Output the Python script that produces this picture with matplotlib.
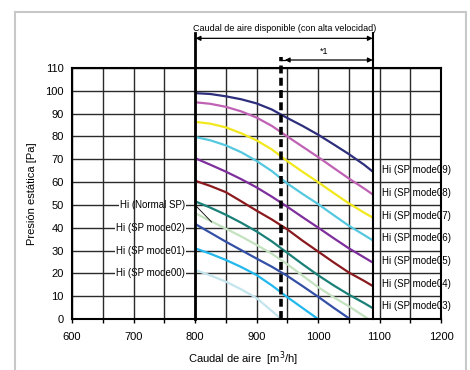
import matplotlib
matplotlib.use('Agg')
import matplotlib.pyplot as plt
from matplotlib.patches import Rectangle

plt.rcParams['font.family'] = ['Liberation Sans', 'DejaVu Sans']

# ---- data ----
x_full = [800, 825, 850, 875, 900, 925, 950, 975, 1000, 1025, 1050, 1075, 1090]
mode09 = [99.0, 98.6, 97.6, 96.3, 94.5, 91.8, 88.1, 84.6, 80.8, 76.6, 72.3, 67.6, 64.4]
mode08 = [95.0, 94.3, 93.0, 91.0, 88.3, 84.6, 80.0, 75.5, 71.0, 66.3, 61.6, 57.2, 54.4]
mode07 = [86.4, 85.6, 84.0, 81.4, 78.3, 74.3, 69.2, 64.5, 60.0, 55.3, 50.7, 46.6, 44.3]
mode06 = [79.8, 78.3, 76.1, 73.1, 69.3, 64.8, 59.4, 54.8, 50.4, 45.6, 40.9, 36.8, 34.3]
mode05 = [70.5, 67.6, 64.6, 61.3, 57.7, 53.6, 49.2, 44.6, 40.1, 35.5, 31.0, 27.0, 24.6]
mode04 = [60.6, 58.3, 55.6, 51.6, 47.5, 43.6, 39.3, 34.3, 29.6, 24.9, 20.4, 16.7, 14.3]
mode03 = [51.6, 48.8, 45.7, 42.2, 38.4, 34.0, 29.0, 24.0, 19.2, 14.8, 10.7, 7.0, 4.6]
normal_x = [800, 825, 850, 875, 900, 925, 950, 975, 1000, 1025, 1050, 1082]
normal = [46.4, 43.0, 39.6, 36.2, 32.5, 28.6, 24.0, 19.0, 14.0, 9.6, 5.6, 0.0]
mode02_x = [800, 825, 850, 875, 900, 925, 950, 975, 1000, 1025, 1052]
mode02 = [41.7, 37.8, 33.9, 30.2, 26.5, 22.9, 18.9, 14.4, 9.8, 5.0, 0.0]
mode01_x = [800, 825, 850, 875, 900, 925, 950, 975, 1000]
mode01 = [31.0, 28.6, 25.9, 22.8, 19.3, 14.7, 9.6, 4.8, 0.0]
mode00_x = [800, 825, 850, 875, 900, 925, 940]
mode00 = [21.5, 19.1, 16.4, 13.0, 9.2, 3.5, 0.0]

right_labels = ['Hi (SP mode09)', 'Hi (SP mode08)', 'Hi (SP mode07)', 'Hi (SP mode06)',
                'Hi (SP mode05)', 'Hi (SP mode04)', 'Hi (SP mode03)']
left_labels = ['Hi (Normal SP)', 'Hi (SP mode02)', 'Hi (SP mode01)', 'Hi (SP mode00)']
left_label_y = [50, 40, 30, 20]

xticks = [600, 700, 800, 900, 1000, 1100, 1200]
yticks = list(range(0, 111, 10))

title_text = 'Caudal de aire disponible (con alta velocidad)'
note_text = '*1'
x_min_avail, x_max_avail, x_note = 800, 1090, 940

# ---- figure ----
fig = plt.figure(figsize=(4.7, 3.7), dpi=100)
ax = fig.add_axes([72/470, 1-319/370, (441-72)/470, (319-68)/370])
ax.set_xlim(600, 1200)
ax.set_ylim(0, 110)

# outer light-gray frame
fig.patches.append(Rectangle((15/470, -0.05), (466-15)/470, 1.05 - 12/370,
                             transform=fig.transFigure, fill=False,
                             edgecolor='#c8c8c8', lw=1.5))

# grid: horizontal lines (below labels), vertical lines (above labels)
for yv in yticks:
    ax.axhline(yv, color='#2a2a2a', lw=1.0, zorder=1)
for xv in range(600, 1201, 50):
    ax.axvline(xv, color='#2a2a2a', lw=1.0, zorder=3)

ax.set_xticks(xticks)
ax.set_xticks(list(range(650, 1200, 100)), minor=True)
ax.set_yticks(yticks)
ax.tick_params(axis='x', which='both', direction='out', length=3, width=1, labelsize=8, pad=6)
ax.tick_params(axis='y', length=0, labelsize=8, pad=6)
for s in ax.spines.values():
    s.set_linewidth(1.5)
    s.set_zorder(6)

ax.set_xlabel('Caudal de aire  [m$^3$/h]', fontsize=8, labelpad=4)
ax.xaxis.set_label_coords((243-72)/(441-72), -0.12)
ax.set_ylabel('Presión estática [Pa]', fontsize=8, labelpad=6)

series = [
    (x_full, mode09, '#2e2f7c'),
    (x_full, mode08, '#c062b4'),
    (x_full, mode07, '#f2e81e'),
    (x_full, mode06, '#55c8e0'),
    (x_full, mode05, '#7e2f9c'),
    (x_full, mode04, '#8a1a1e'),
    (x_full, mode03, '#1a8078'),
    (normal_x, normal, '#c4e2c0'),
    (mode02_x, mode02, '#3450a6'),
    (mode01_x, mode01, '#22b8ee'),
    (mode00_x, mode00, '#c4e4ee'),
]
for xs, ys, c in series:
    ax.plot(xs, ys, color=c, lw=1.6, zorder=4, solid_capstyle='butt')

# right labels at the curve ends
for lab, ys in zip(right_labels, [mode09, mode08, mode07, mode06, mode05, mode04, mode03]):
    ax.text(1104, ys[-1] + 1.0, lab, fontsize=7, ha='left', va='center', zorder=2)

# left labels sitting on gridlines
for lab, yv in zip(left_labels, left_label_y):
    ax.text(784, yv, lab, fontsize=7, ha='right', va='center', zorder=2,
            bbox=dict(facecolor='white', edgecolor='none', pad=0.6))
# leader for Normal SP
ax.plot([800, normal_x[1] + 2], [left_label_y[0], normal[1] - 0.5], color='black', lw=0.6, zorder=5)

# limit lines and dashed line
ax.plot([x_min_avail, x_min_avail], [0, 125.5], color='black', lw=2.0, clip_on=False, zorder=7)
ax.plot([x_max_avail, x_max_avail], [0, 125.5], color='black', lw=1.5, clip_on=False, zorder=7)
ax.plot([x_note, x_note], [0, 115], color='black', lw=2.6, ls=(0, (2.2, 1.2)),
        clip_on=False, zorder=7)

# arrows
ax.annotate('', xy=(x_min_avail + 1, 123), xytext=(x_max_avail - 1, 123),
            arrowprops=dict(arrowstyle='<|-|>', color='black', lw=0.9,
                            mutation_scale=7, shrinkA=0, shrinkB=0),
            annotation_clip=False)
ax.annotate('', xy=(x_note + 6, 113.5), xytext=(x_max_avail - 1, 113.5),
            arrowprops=dict(arrowstyle='<|-|>', color='black', lw=0.9,
                            mutation_scale=7, shrinkA=0, shrinkB=0),
            annotation_clip=False)
ax.plot([x_note, x_note + 6], [113.5, 113.5], color='black', lw=0.9, clip_on=False)
ax.text((x_min_avail + x_max_avail) / 2, 127.5, title_text, fontsize=6.5,
        ha='center', va='center')
ax.text((x_note + x_max_avail) / 2 - 5, 117.3, note_text, fontsize=6.5,
        ha='center', va='center')

fig.savefig('out.png', dpi=100)
